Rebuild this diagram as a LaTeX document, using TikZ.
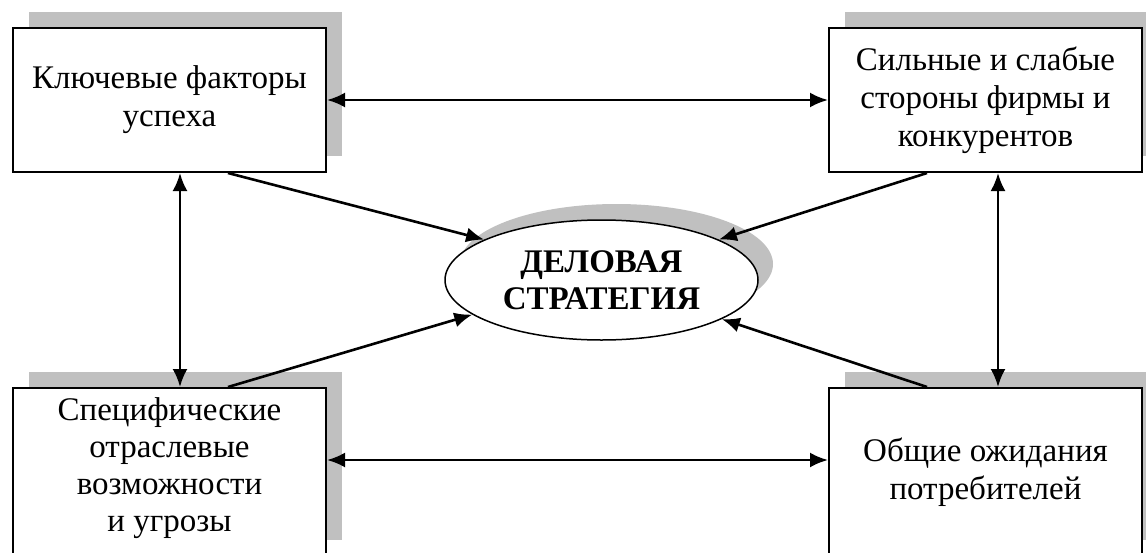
\documentclass[tikz,border=0pt]{standalone}
\usepackage{fontspec}
\setmainfont{Liberation Serif}
\usetikzlibrary{arrows.meta,shapes.geometric}
\definecolor{shadowgray}{RGB}{192,192,192}
\begin{document}
\begin{tikzpicture}
	[x=1pt,y=-1pt,
	box/.style={rectangle,draw,line width=2pt,fill=white,minimum width=313pt,minimum height=144pt,inner sep=0pt,align=center,font=\fontsize{33}{38}\selectfont,
		preaction={fill=shadowgray,transform canvas={xshift=16pt,yshift=16pt}}},
	goal/.style={ellipse,draw,line width=1.5pt,fill=white,minimum width=313pt,minimum height=120pt,inner sep=0pt,align=center,font=\bfseries\fontsize{33}{37}\selectfont,
		preaction={fill=shadowgray,transform canvas={xshift=15pt,yshift=16pt}}},
	link/.style={line width=2.6pt},
	>={Latex[length=18pt,width=15pt]}]
	\useasboundingbox (0,0) rectangle (1146,552);
	\clip (0,0) rectangle (1146,552);
	\node[box,name=kfs]at(169.5,100){Ключевые факторы\\успеха};
	\node[box,name=swot]at(985.5,100){Сильные и слабые\\стороны фирмы и\\конкурентов};
	\node[box,name=opp,minimum height=168pt,text depth=14pt,font=\fontsize{33}{37}\selectfont]at(169.5,472){Специфические\\отраслевые\\возможности\\и угрозы};
	\node[box,name=cons,minimum height=168pt]at(985.5,472){Общие ожидания\\потребителей};
	\node[goal,name=strat]at(601.5,280){ДЕЛОВАЯ\\СТРАТЕГИЯ};
	\draw[<->,link](kfs) -- (swot);
	\draw[<->,link]([yshift=12pt]opp.east) -- ([yshift=12pt]cons.west);
	\draw[<->,link]([xshift=10.5pt]kfs.south) -- ([xshift=10.5pt]opp.north);
	\draw[<->,link]([xshift=12.5pt]swot.south) -- ([xshift=12.5pt]cons.north);
	\draw[->,link]([xshift=58.5pt]kfs.south) -- (strat.161);
	\draw[->,link]([xshift=-58.5pt]swot.south) -- (strat.19);
	\draw[->,link]([xshift=58.5pt]opp.north) -- (strat.195);
	\draw[->,link]([xshift=-58.5pt]cons.north) -- (strat.342);
\end{tikzpicture}
\end{document}
